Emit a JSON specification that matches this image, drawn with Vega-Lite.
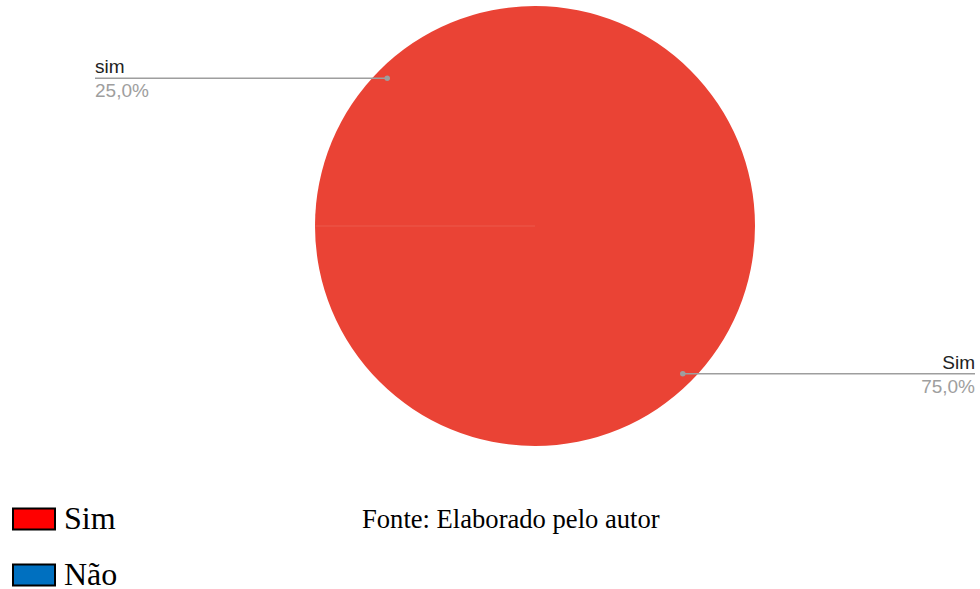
{
  "$schema": "https://vega.github.io/schema/vega-lite/v6.json",
  "width": 880,
  "height": 452,
  "autosize": {"type": "none"},
  "padding": {"left": 95, "top": 0, "right": 5, "bottom": 137},
  "background": "#ffffff",
  "config": {"view": {"stroke": null}},
  "title": {
    "text": "Fonte: Elaborado pelo autor",
    "orient": "top",
    "anchor": "start",
    "frame": "group",
    "dx": 267,
    "offset": -555,
    "baseline": "alphabetic",
    "font": "Liberation Serif",
    "fontSize": 26.6,
    "fontWeight": "normal",
    "color": "#000000"
  },
  "datasets": {
    "respostas": [
      {"rotulo": "Sim", "valor": 75, "ordem": 1},
      {"rotulo": "sim", "valor": 25, "ordem": 2}
    ],
    "legenda": [
      {"resposta": "Sim"},
      {"resposta": "Não"}
    ]
  },
  "layer": [
    {
      "data": {"name": "respostas"},
      "mark": {"type": "arc", "outerRadius": 220, "color": "#ea4335"},
      "encoding": {
        "theta": {"field": "valor", "type": "quantitative", "stack": true},
        "order": {"field": "ordem", "type": "quantitative"}
      }
    },
    {
      "data": {"name": "respostas"},
      "transform": [
        {"joinaggregate": [{"op": "sum", "field": "valor", "as": "total"}]},
        {"window": [{"op": "sum", "field": "valor", "as": "acum"}], "sort": [{"field": "ordem"}]},
        {"calculate": "2*PI*(datum.acum - datum.valor/2)/datum.total", "as": "ang"},
        {"calculate": "2*PI*(datum.acum - datum.valor)/datum.total", "as": "angIni"},
        {"calculate": "0.95*sin(datum.ang)", "as": "px"},
        {"calculate": "0.95*cos(datum.ang)", "as": "py"},
        {"calculate": "sin(datum.angIni)", "as": "bx"},
        {"calculate": "cos(datum.angIni)", "as": "by"},
        {"calculate": "datum.px < 0 ? -2 : 2", "as": "ponta"},
        {"calculate": "replace(format(datum.valor/datum.total, '.1%'), '.', ',')", "as": "pct"}
      ],
      "layer": [
        {
          "transform": [{"filter": "datum.acum - datum.valor > 0"}],
          "mark": {"type": "rule", "color": "#ffffff", "strokeWidth": 1, "opacity": 0.12},
          "encoding": {
            "x": {"field": "bx", "type": "quantitative", "scale": {"domain": [-2, 2], "nice": false, "zero": false}, "axis": null},
            "x2": {"datum": 0},
            "y": {"field": "by", "type": "quantitative", "scale": {"domain": [-1.0273, 1.0273], "nice": false, "zero": false}, "axis": null},
            "y2": {"datum": 0}
          }
        },
        {
          "mark": {"type": "rule", "color": "#9e9e9e", "strokeWidth": 1.5},
          "encoding": {
            "x": {"field": "px", "type": "quantitative"},
            "x2": {"field": "ponta"},
            "y": {"field": "py", "type": "quantitative"}
          }
        },
        {
          "mark": {"type": "point", "filled": true, "size": 30, "color": "#9e9e9e", "opacity": 1},
          "encoding": {
            "x": {"field": "px", "type": "quantitative"},
            "y": {"field": "py", "type": "quantitative"}
          }
        },
        {
          "transform": [{"filter": "datum.px < 0"}],
          "mark": {"type": "text", "align": "left", "baseline": "alphabetic", "dy": -5, "font": "Liberation Sans", "fontSize": 19, "color": "#222222"},
          "encoding": {"x": {"field": "ponta", "type": "quantitative"}, "y": {"field": "py", "type": "quantitative"}, "text": {"field": "rotulo"}}
        },
        {
          "transform": [{"filter": "datum.px < 0"}],
          "mark": {"type": "text", "align": "left", "baseline": "alphabetic", "dy": 19, "font": "Liberation Sans", "fontSize": 19, "color": "#9e9e9e"},
          "encoding": {"x": {"field": "ponta", "type": "quantitative"}, "y": {"field": "py", "type": "quantitative"}, "text": {"field": "pct"}}
        },
        {
          "transform": [{"filter": "datum.px >= 0"}],
          "mark": {"type": "text", "align": "right", "baseline": "alphabetic", "dy": -5, "font": "Liberation Sans", "fontSize": 19, "color": "#222222"},
          "encoding": {"x": {"field": "ponta", "type": "quantitative"}, "y": {"field": "py", "type": "quantitative"}, "text": {"field": "rotulo"}}
        },
        {
          "transform": [{"filter": "datum.px >= 0"}],
          "mark": {"type": "text", "align": "right", "baseline": "alphabetic", "dy": 19, "font": "Liberation Sans", "fontSize": 19, "color": "#9e9e9e"},
          "encoding": {"x": {"field": "ponta", "type": "quantitative"}, "y": {"field": "py", "type": "quantitative"}, "text": {"field": "pct"}}
        }
      ]
    },
    {
      "data": {"name": "legenda"},
      "mark": {"type": "square", "filled": true, "opacity": 0},
      "encoding": {
        "fill": {
          "field": "resposta",
          "type": "nominal",
          "scale": {"domain": ["Sim", "Não"], "range": ["#ff0000", "#0070c0"]},
          "legend": {
            "orient": "none",
            "legendX": -83,
            "legendY": 497,
            "title": null,
            "padding": 0,
            "symbolType": "M-1,-0.5H1V0.5H-1Z",
            "symbolSize": 1764,
            "symbolStrokeColor": "#000000",
            "symbolStrokeWidth": 2,
            "symbolOpacity": 1,
            "labelFont": "Liberation Serif",
            "labelFontSize": 32,
            "labelColor": "#000000",
            "labelOffset": 8,
            "labelLimit": 0,
            "rowPadding": 18
          }
        }
      }
    }
  ]
}
